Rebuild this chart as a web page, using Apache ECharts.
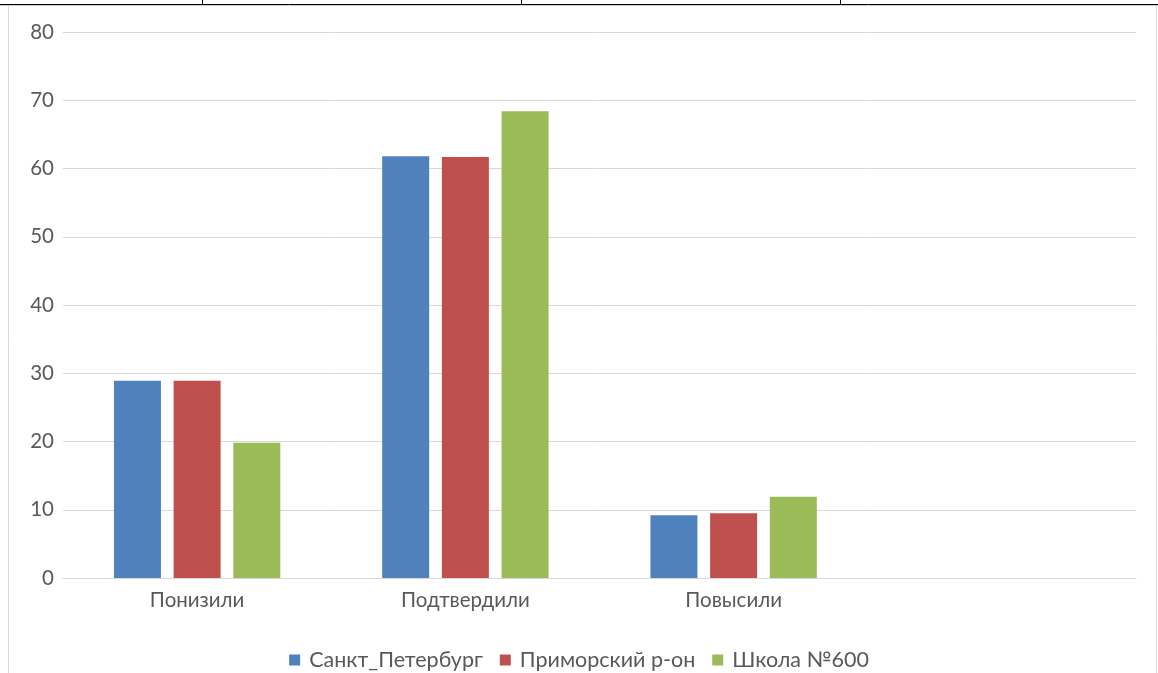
<!DOCTYPE html>
<html><head><meta charset="utf-8">
<script src="https://cdn.jsdelivr.net/npm/echarts@6/dist/echarts.min.js"></script>
<style>html,body{margin:0;padding:0;background:#fff}#c{width:1158px;height:673px}</style>
</head><body><div id="c"></div>
<script>
var categories = ['Понизили', 'Подтвердили', 'Повысили', ''];
var seriesNames = ['Санкт_Петербург', 'Приморский р-он', 'Школа №600'];
var spb = [28.9, 61.8, 9.2, null];
var prim = [28.9, 61.7, 9.5, null];
var school = [19.8, 68.4, 11.9, null];
var yTicks = [0, 10, 20, 30, 40, 50, 60, 70, 80];

var colors = ['#4f81bd', '#c0504d', '#9bbb59'];
var FONT = 'Lato, "Open Sans", sans-serif';
var chart = echarts.init(document.getElementById('c'), null, {renderer: 'canvas'});
function bar(name, data, i) {
  return {name: name, type: 'bar', data: data, barWidth: 47, barGap: '27%',
    itemStyle: {color: colors[i]}, animation: false};
}
chart.setOption({
  animation: false,
  grid: {left: 63, right: 22, top: 32, bottom: 95, containLabel: false},
  legend: {
    data: seriesNames, top: 644, left: 'center', itemWidth: 11, itemHeight: 11, itemGap: 17,
    icon: 'rect',
    textStyle: {fontFamily: FONT, fontSize: 21.5, color: '#595959', padding: [0, 0, 0, 4]}
  },
  xAxis: {
    type: 'category', data: categories,
    axisLine: {show: true, lineStyle: {color: '#d9d9d9', width: 1}},
    axisTick: {show: false},
    axisLabel: {fontFamily: FONT, fontSize: 20.5, color: '#595959', margin: 12}
  },
  yAxis: {
    type: 'value', min: yTicks[0], max: yTicks[yTicks.length - 1], interval: 10,
    axisLine: {show: false}, axisTick: {show: false},
    splitLine: {lineStyle: {color: '#d9d9d9', width: 1}},
    axisLabel: {fontFamily: FONT, fontSize: 20.5, color: '#595959', margin: 9}
  },
  series: [bar(seriesNames[0], spb, 0), bar(seriesNames[1], prim, 1), bar(seriesNames[2], school, 2)],
  graphic: [
    {type: 'line', shape: {x1: 0, y1: 4.5, x2: 1158, y2: 4.5}, style: {stroke: '#000', lineWidth: 1}, silent: true},
    {type: 'line', shape: {x1: 0, y1: 5.5, x2: 1158, y2: 5.5}, style: {stroke: '#cfcfcf', lineWidth: 1}, silent: true},
    {type: 'line', shape: {x1: 202.5, y1: 0, x2: 202.5, y2: 4}, style: {stroke: '#000', lineWidth: 1}, silent: true},
    {type: 'line', shape: {x1: 521.5, y1: 0, x2: 521.5, y2: 4}, style: {stroke: '#000', lineWidth: 1}, silent: true},
    {type: 'line', shape: {x1: 840.5, y1: 0, x2: 840.5, y2: 4}, style: {stroke: '#000', lineWidth: 1}, silent: true},
    {type: 'line', shape: {x1: 8.5, y1: 6, x2: 8.5, y2: 673}, style: {stroke: '#d9d9d9', lineWidth: 1}, silent: true},
    {type: 'line', shape: {x1: 1156.5, y1: 6, x2: 1156.5, y2: 673}, style: {stroke: '#d9d9d9', lineWidth: 1}, silent: true}
  ]
});
</script></body></html>
